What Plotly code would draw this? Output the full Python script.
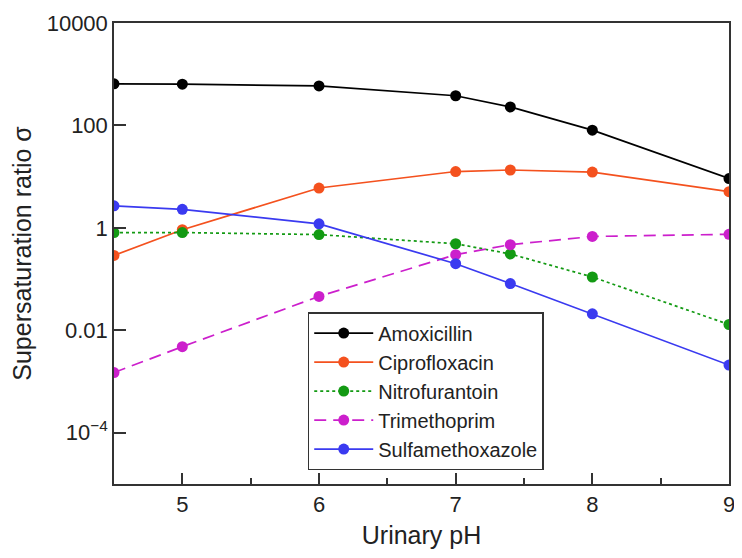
import plotly.graph_objects as go

ph = [4.5, 5, 6, 7, 7.4, 8, 9]
amoxicillin = [650, 640, 590, 380, 230, 81, 9.2]
ciprofloxacin = [0.29, 0.92, 6.0, 12.6, 13.5, 12.3, 5.1]
nitrofurantoin = [0.81, 0.81, 0.74, 0.49, 0.31, 0.11, 0.013]
trimethoprim = [0.0015, 0.0048, 0.046, 0.30, 0.47, 0.68, 0.75]
sulfamethoxazole = [2.7, 2.3, 1.2, 0.20, 0.082, 0.021, 0.0021]

y_tickvals = [1e-4, 1e-2, 1, 100, 1e4]
y_ticktext = ["10<sup>\u22124</sup>", "0.01", "1", "100", "10000"]
x_tickvals = [5, 6, 7, 8, 9]

series = [
    ("Amoxicillin", amoxicillin, "#000000", "solid"),
    ("Ciprofloxacin", ciprofloxacin, "#F4511E", "solid"),
    ("Nitrofurantoin", nitrofurantoin, "#139A13", "3px,3px"),
    ("Trimethoprim", trimethoprim, "#CC1FCC", "12px,7px"),
    ("Sulfamethoxazole", sulfamethoxazole, "#3A3AF0", "solid"),
]

fig = go.Figure()
for name, vals, color, dash in series:
    fig.add_trace(go.Scatter(
        x=ph, y=vals, name=name, mode="lines+markers",
        line=dict(color=color, width=1.7, dash=dash),
        marker=dict(color=color, size=11),
    ))

axis_font = dict(family="Liberation Sans, Arial, sans-serif", size=22, color="#222")

# page body has an 8px margin, so the figure is drawn 8px smaller
fig.update_layout(
    width=734, height=550,
    margin=dict(l=106, r=13, t=15, b=74),
    paper_bgcolor="white", plot_bgcolor="white",
    font=dict(family="Liberation Sans, Arial, sans-serif", color="#222"),
    showlegend=True,
    legend=dict(
        x=0.315, y=0.373, xanchor="left", yanchor="top",
        bordercolor="#333", borderwidth=1.5, bgcolor="white",
        font=dict(size=20, color="#222"),
        itemwidth=59, tracegroupgap=0,
        entrywidth=236, entrywidthmode="pixels",
    ),
)
fig.update_xaxes(
    range=[4.5, 9], tickvals=x_tickvals, ticks="inside", ticklen=11,
    tickwidth=1.5, tickcolor="#333", automargin=False,
    minor=dict(dtick=0.5, tick0=4.5, ticks="inside", ticklen=6, tickwidth=1.5, tickcolor="#333"),
    showline=True, linecolor="#333", linewidth=1.5, mirror=True,
    showgrid=False, zeroline=False, tickfont=axis_font,
    title=dict(text="Urinary pH", font=dict(size=25, color="#222"), standoff=10),
)
fig.update_yaxes(
    type="log", range=[-5, 4], tickvals=y_tickvals, ticktext=y_ticktext,
    ticks="inside", ticklen=12, tickwidth=1.5, tickcolor="#333", automargin=False,
    showline=True, linecolor="#333", linewidth=1.5, mirror=True,
    showgrid=False, zeroline=False, tickfont=axis_font,
    title=dict(text="Supersaturation ratio \u03c3", font=dict(size=25, color="#222"), standoff=8),
)

fig.write_html("out.html")
